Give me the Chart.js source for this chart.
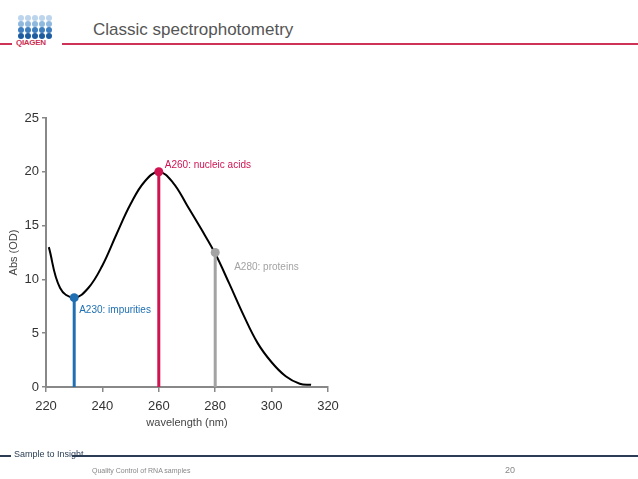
<!DOCTYPE html>
<html>
<head>
  <title>Classic spectrophotometry</title>
  <style>
    body { margin: 0; width: 638px; height: 479px; background: #fff; position: relative; overflow: hidden; font-family: "Liberation Sans", Arial, sans-serif; }
    #chart { position: absolute; left: 0; top: 0; }
    .hl { position: absolute; height: 2px; }
    .dot { position: absolute; width: 6px; height: 6px; border-radius: 50%; }
    #logo_txt { position: absolute; left: 16px; top: 38px; font-size: 8px; font-weight: bold; color: #cc2f55; letter-spacing: -0.3px; }
    #title { position: absolute; left: 93px; top: 20px; font-size: 17px; color: #555; }
    #s2i { position: absolute; left: 14px; top: 449px; font-size: 9px; color: #2a3d54; }
    #foot { position: absolute; left: 92px; top: 467px; font-size: 7px; color: #888; }
    #page { position: absolute; left: 505px; top: 465px; font-size: 9px; color: #888; }
  </style>
  <script src="https://cdn.jsdelivr.net/npm/chart.js"></script>
</head>
<body>
  <div id="logo"></div>
  <div id="logo_txt">QIAGEN</div>
  <div class="hl" style="left:0;width:12px;top:43px;background:#cc3357"></div>
  <div class="hl" style="left:62px;right:0;top:43px;background:#cc3357"></div>
  <div id="title">Classic spectrophotometry</div>
  <canvas id="chart" width="638" height="479"></canvas>
  <div class="hl" style="left:0;width:11px;top:455px;background:#2a3d54"></div>
  <div class="hl" style="left:72px;right:0;top:455px;background:#2a3d54"></div>
  <div id="s2i">Sample to Insight</div>
  <div id="foot">Quality Control of RNA samples</div>
  <div id="page">20</div>
  <script>
    // absorbance spectrum
    const wavelengths = [221, 225, 230, 235, 240, 245, 250, 255, 260, 265, 270, 275, 280, 285, 290, 295, 300, 305, 310, 314];
    const absorbance = [13.0, 9.2, 8.3, 9.2, 11.3, 14.2, 17.0, 19.1, 20.0, 19.0, 16.9, 14.7, 12.4, 9.6, 6.7, 4.1, 2.3, 1.0, 0.3, 0.2];

    // marker stems
    const markerNm = [230, 260, 280];
    const markerAbs = [8.3, 20.0, 12.5];
    const markerLabels = ['A230: impurities', 'A260: nucleic acids', 'A280: proteins'];
    const markerColors = ['#1f6fb2', '#d01452', '#a3a3a3'];

    const xTicks = [220, 240, 260, 280, 300, 320];
    const yTicks = [0, 5, 10, 15, 20, 25];

    // logo dots
    const dotRows = ['#bcd5ec', '#8fb8de', '#3d7dbd', '#1d5d9f'];
    let logo = document.getElementById('logo');
    dotRows.forEach(function (c, r) {
      for (let i = 0; i < 5; i++) {
        let d = document.createElement('div');
        d.className = 'dot';
        d.style.left = (18 + i * 7) + 'px';
        d.style.top = (15 + r * 6) + 'px';
        d.style.background = c;
        logo.appendChild(d);
      }
    });

    const datasets = [{
      data: wavelengths.map((x, i) => ({x: x, y: absorbance[i]})),
      borderColor: '#000',
      borderWidth: 2,
      pointRadius: 0,
      tension: 0.4,
      order: 2
    }];
    markerNm.forEach(function (x, i) {
      datasets.push({
        data: [{x: x, y: 0}, {x: x, y: markerAbs[i]}],
        borderColor: markerColors[i],
        backgroundColor: markerColors[i],
        borderWidth: 3,
        pointRadius: [0, 4.5],
        pointBorderWidth: 0,
        order: 1
      });
    });

    // text next to each marker
    const labelOffsets = [[5, 13], [6, -7], [19, 15]];
    const markerText = {
      id: 'markerText',
      afterDatasetsDraw(chart) {
        const ctx = chart.ctx;
        const xs = chart.scales.x, ys = chart.scales.y;
        ctx.save();
        ctx.font = '10px "Liberation Sans", Arial, sans-serif';
        ctx.textBaseline = 'middle';
        markerNm.forEach(function (x, i) {
          ctx.fillStyle = markerColors[i];
          ctx.fillText(markerLabels[i], xs.getPixelForValue(x) + labelOffsets[i][0], ys.getPixelForValue(markerAbs[i]) + labelOffsets[i][1]);
        });
        ctx.restore();
      }
    };

    const tickFont = {family: '"Liberation Sans", Arial, sans-serif', size: 13};
    new Chart(document.getElementById('chart'), {
      type: 'line',
      data: {datasets: datasets},
      plugins: [markerText],
      options: {
        responsive: false,
        animation: false,
        layout: {padding: {left: 0, top: 118, right: 310, bottom: 47}},
        plugins: {legend: {display: false}, tooltip: {enabled: false}},
        scales: {
          x: {
            type: 'linear', min: 220, max: 320,
            afterBuildTicks: s => { s.ticks = xTicks.map(v => ({value: v})); },
            afterFit: s => { s.height = 45; },
            ticks: {color: '#333', font: tickFont, padding: 7},
            grid: {drawOnChartArea: false, tickLength: 5, color: '#888', lineWidth: 1.5},
            border: {color: '#888', width: 2},
            title: {display: true, text: 'wavelength (nm)', color: '#444', font: {family: '"Liberation Sans", Arial, sans-serif', size: 11}, padding: {top: 0, bottom: 2}}
          },
          y: {
            type: 'linear', min: 0, max: 25,
            afterBuildTicks: s => { s.ticks = yTicks.map(v => ({value: v})); },
            afterFit: s => { s.width = 46; },
            ticks: {color: '#333', font: tickFont, padding: 3},
            grid: {drawOnChartArea: false, tickLength: 4, color: '#888', lineWidth: 1.5},
            border: {color: '#888', width: 2},
            title: {display: true, text: 'Abs (OD)', color: '#444', font: {family: '"Liberation Sans", Arial, sans-serif', size: 11}, padding: {top: 7, bottom: 0}}
          }
        }
      }
    });
  </script>
</body>
</html>
